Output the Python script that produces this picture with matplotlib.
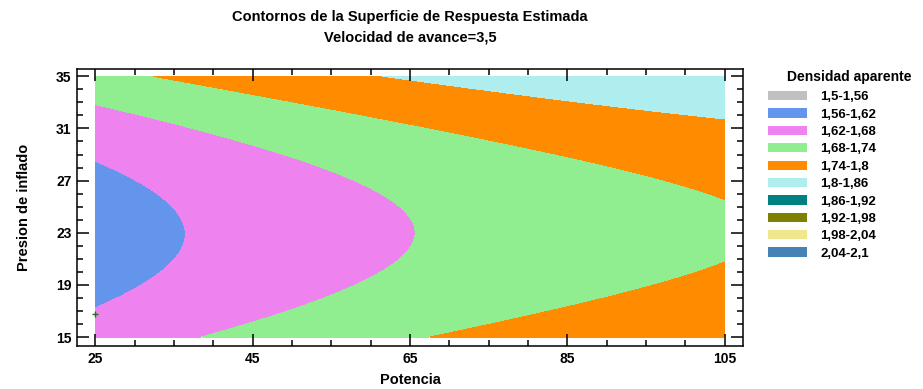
import numpy as np
import matplotlib
matplotlib.use("Agg")
import matplotlib.pyplot as plt
from matplotlib.patches import Patch
from matplotlib.ticker import MultipleLocator

plt.rcParams['font.family'] = ['Liberation Sans', 'DejaVu Sans']
plt.rcParams['font.weight'] = 'bold'

# contour boundary points: (potencia, presion, nivel)
pot_pts = [25, 25, 36.25, 31.5, 31.5,
           25, 65.2, 37.9, 45.07, 45.07,
           31.0, 105, 105, 66.7, 63.7, 84.9, 84.9, 45.07,
           60.1, 69.65, 84.9, 105]
pres_pts = [28.48, 17.27, 23.0, 26.27, 18.85,
            32.77, 23.0, 15, 29.55, 16.04,
            35, 25.43, 20.83, 15, 31.4, 29.1, 17.19, 34.2,
            35, 34.18, 33.05, 31.8]
nivel_pts = [1.62] * 5 + [1.68] * 5 + [1.74] * 8 + [1.80] * 4

levels = [1.50, 1.56, 1.62, 1.68, 1.74, 1.80, 1.86, 1.92, 1.98, 2.04, 2.10]
labels = ["1,5-1,56", "1,56-1,62", "1,62-1,68", "1,68-1,74", "1,74-1,8",
          "1,8-1,86", "1,86-1,92", "1,92-1,98", "1,98-2,04", "2,04-2,1"]
colors = ["#c0c0c0", "#6495ed", "#ee82ee", "#90ee90", "#ff8c00",
          "#afeeee", "#008080", "#808000", "#f0e68c", "#4682b4"]

# design point marker
punto_x = [25]
punto_y = [16.8]

# fit quadratic response surface through the read contour points
px = np.array(pot_pts)
py = np.array(pres_pts)
A = np.column_stack([np.ones_like(px), px, py, px**2, py**2, px * py])
coef, *_ = np.linalg.lstsq(A, np.array(nivel_pts), rcond=None)

gx, gy = np.meshgrid(np.linspace(25, 105, 400), np.linspace(15, 35, 300))
gz = (coef[0] + coef[1] * gx + coef[2] * gy + coef[3] * gx**2
      + coef[4] * gy**2 + coef[5] * gx * gy)

fig = plt.figure(figsize=(9.23, 3.89), dpi=100)
ax = fig.add_axes([77 / 923, 1 - 346 / 389, 666 / 923, 277 / 389])

ax.contourf(gx, gy, gz, levels=levels, colors=colors)
ax.plot(punto_x, punto_y, marker='+', color='#1a7a1a', markersize=5, linestyle='none')

ax.set_xlim(22.65, 107.35)
ax.set_ylim(14.31, 35.56)
ax.set_xticks([25, 45, 65, 85, 105])
ax.set_yticks([15, 19, 23, 27, 31, 35])
ax.xaxis.set_minor_locator(MultipleLocator(5))
ax.yaxis.set_minor_locator(MultipleLocator(1))
ax.tick_params(which='both', direction='in', top=True, right=True, width=1.1,
               labelsize=10, pad=4)
ax.tick_params(which='major', length=8.5)
ax.tick_params(which='minor', length=4.3)
for s in ax.spines.values():
    s.set_linewidth(1.1)

ax.set_xlabel("Potencia", fontsize=10.5, fontweight='bold', labelpad=5)
ax.set_ylabel("Presion de inflado", fontsize=10.5, fontweight='bold', labelpad=18)

fig.text(410 / 923, 1 - 17 / 389, "Contornos de la Superficie de Respuesta Estimada",
         ha='center', va='center', fontsize=10.5, fontweight='bold')
fig.text(410 / 923, 1 - 38 / 389, "Velocidad de avance=3,5",
         ha='center', va='center', fontsize=10.5, fontweight='bold')

fig.text(787 / 923, 1 - 77 / 389, "Densidad aparente", ha='left', va='center',
         fontsize=10, fontweight='bold')
handles = [Patch(facecolor=c, edgecolor='none') for c in colors]
fig.legend(handles, labels, loc='upper left', bbox_to_anchor=(768 / 923, 1 - 91 / 389),
           frameon=False, borderpad=0, borderaxespad=0, handlelength=2.95,
           handleheight=0.7, handletextpad=1.0, labelspacing=0.39,
           prop={'size': 9.5, 'weight': 'bold'})

fig.savefig("out.png", dpi=100)
